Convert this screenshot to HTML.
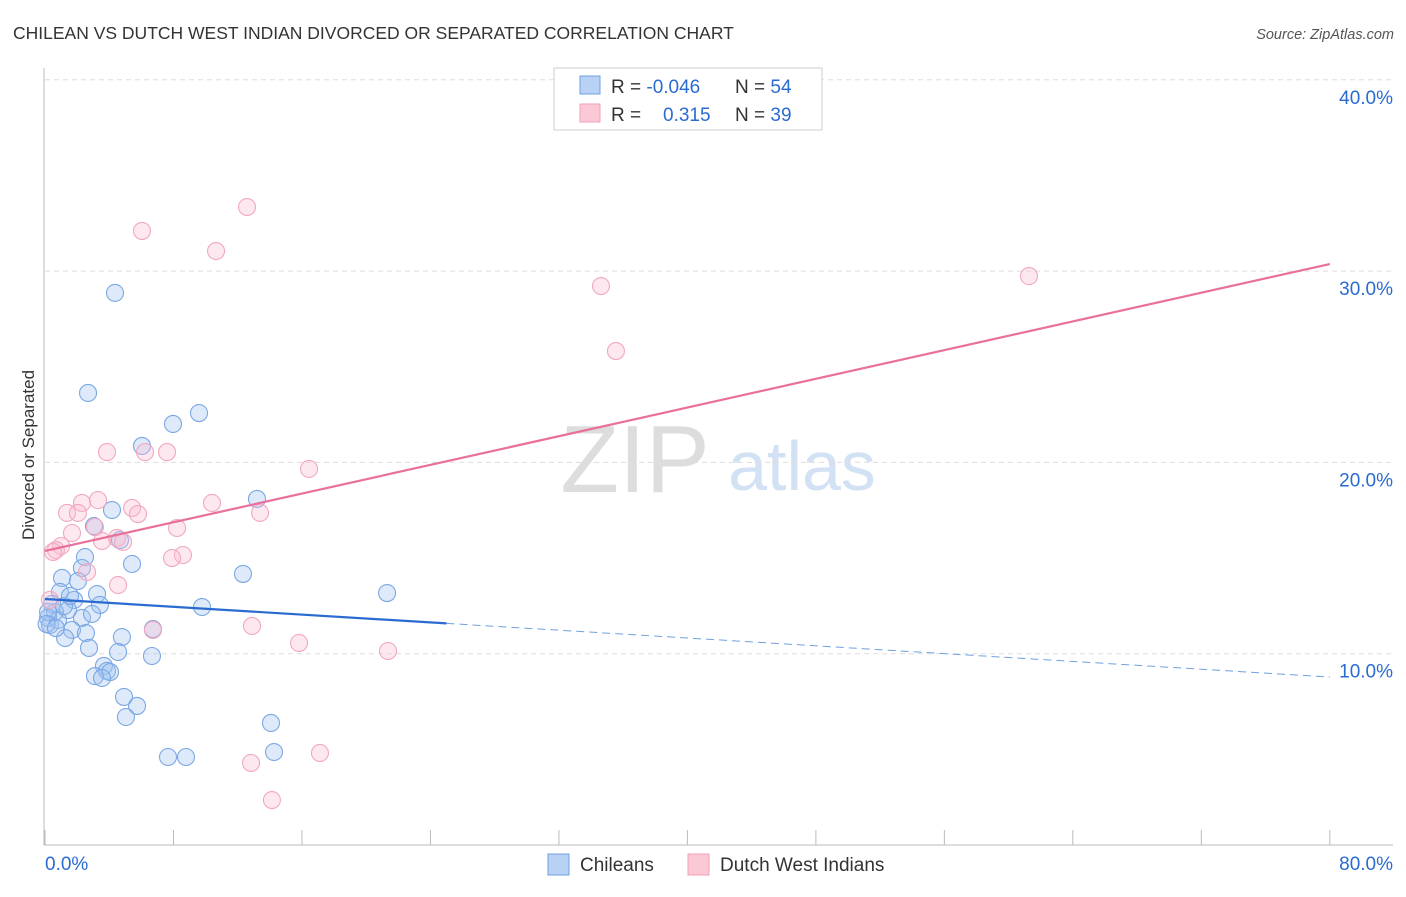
<!DOCTYPE html>
<html><head><meta charset="utf-8"><style>
body{margin:0;background:#fff;font-family:"Liberation Sans",sans-serif;}
svg text{font-family:"Liberation Sans",sans-serif;}
</style></head><body>
<svg id="c" width="1406" height="892" xmlns="http://www.w3.org/2000/svg">
<text x="13" y="39" font-size="17.5" fill="#333">CHILEAN VS DUTCH WEST INDIAN DIVORCED OR SEPARATED CORRELATION CHART</text>
<text x="1394" y="39" font-size="14.5" fill="#555" font-style="italic" text-anchor="end">Source: ZipAtlas.com</text>
<text x="34" y="455" font-size="17" fill="#333" text-anchor="middle" transform="rotate(-90 34 455)">Divorced or Separated</text>
<text x="635" y="492" font-size="96" fill="#ddd" font-family="Liberation Serif" text-anchor="middle">ZIP</text>
<text x="802" y="490" font-size="70" fill="#d2e1f3" text-anchor="middle">atlas</text>
<g id="grid"></g><g id="axes"></g><g id="pts"></g><g id="trend"></g>
<g>
<rect x="554" y="68" width="268" height="62" fill="#fff" stroke="#ccc"/>
<rect x="580" y="76" width="20" height="18" fill="#b8d2f5" stroke="#6fa0e0"/>
<rect x="580" y="104" width="20" height="18" fill="#fbc8d6" stroke="#f0a0b8"/>
<text x="611" y="93" font-size="19" fill="#333">R = <tspan fill="#2a6bd1">-0.046</tspan><tspan x="735">N = </tspan><tspan fill="#2a6bd1">54</tspan></text>
<text x="611" y="121" font-size="19" fill="#333">R = <tspan x="663" fill="#2a6bd1">0.315</tspan><tspan x="735">N = </tspan><tspan fill="#2a6bd1">39</tspan></text>
</g>
<g>
<rect x="548" y="854" width="21" height="21" fill="#b8d2f5" stroke="#6fa0e0"/>
<text x="580" y="871" font-size="19" fill="#333">Chileans</text>
<rect x="688" y="854" width="21" height="21" fill="#fbc8d6" stroke="#f0a0b8"/>
<text x="720" y="871" font-size="19" fill="#333">Dutch West Indians</text>
</g>
</svg>
<script>
const blueX=[4.36,2.68,9.59,7.97,6.04,13.20,4.17,3.05,4.67,2.49,5.42,2.30,12.33,1.06,2.05,0.93,3.24,21.30,1.81,3.42,9.78,0.44,1.43,0.62,2.30,2.93,0.19,0.31,1.68,2.55,6.72,4.79,1.25,2.74,4.55,6.66,3.67,3.86,4.05,3.11,3.55,4.92,5.73,5.04,14.07,7.66,8.78,14.26,0.81,1.18,0.19,1.56,0.1,0.68];
const blueY=[28.86,23.63,22.58,22.01,20.86,18.09,17.51,16.67,15.94,15.05,14.69,14.48,14.17,13.96,13.80,13.23,13.12,13.17,12.81,12.55,12.44,12.60,12.28,12.18,11.87,12.08,11.87,11.50,11.24,11.08,11.29,10.87,10.82,10.30,10.09,9.88,9.36,9.10,9.04,8.83,8.73,7.74,7.27,6.69,6.38,4.60,4.60,4.86,11.76,12.49,12.18,13.02,11.55,11.34];
const pinkX=[12.58,6.04,10.65,61.27,34.62,35.55,3.86,6.23,7.60,16.44,3.30,2.30,10.40,5.42,1.37,5.79,13.39,2.05,3.11,8.22,1.68,4.48,3.55,4.86,1.00,0.68,0.50,8.59,7.91,2.62,4.55,12.89,6.72,15.82,21.36,17.12,12.83,14.13,0.31];
const pinkY=[33.35,32.10,31.05,29.74,29.22,25.82,20.54,20.54,20.54,19.66,18.03,17.88,17.88,17.62,17.36,17.30,17.36,17.36,16.62,16.57,16.31,16.05,15.89,15.84,15.63,15.42,15.32,15.16,15.00,14.27,13.59,11.45,11.24,10.56,10.14,4.81,4.29,2.35,12.81];
const yTicks=[10,20,30,40];
const yTickLabels=["10.0%","20.0%","30.0%","40.0%"];
const blueTrend=[12.86,8.78];
const pinkTrend=[15.37,30.37];
const blueSolidEnd=25;
const NS="http://www.w3.org/2000/svg";
const sx=v=>45+v*16.06, sy=v=>845-v*19.13;
function mk(p,t,a){const e=document.createElementNS(NS,t);for(const k in a)e.setAttribute(k,a[k]);document.getElementById(p).appendChild(e);return e;}
yTicks.forEach((t,i)=>{
 const l=mk('grid','line',{x1:45,x2:1393,y1:sy(t),y2:sy(t),stroke:'#ddd','stroke-dasharray':'5,4'});
 
 
 const tx=mk('grid','text',{x:1393,y:sy(t)+24,'font-size':19,fill:'#2a6bd1','text-anchor':'end'});
 tx.textContent=yTickLabels[i];
 
 
});
const ax=mk('axes','line',{x1:44,x2:44,y1:68,y2:845,stroke:'#bbb'});


const bx=mk('axes','line',{x1:44,x2:1393,y1:845,y2:845,stroke:'#bbb'});


for(let i=0;i<=10;i++){const t=mk('axes','line',{x1:sx(i*8),x2:sx(i*8),y1:830,y2:845,stroke:'#bbb'});
 
 }
const xl=mk('axes','text',{x:45,y:870,'font-size':19,fill:'#2a6bd1'});xl.textContent='0.0%';


const xr=mk('axes','text',{x:1393,y:870,'font-size':19,fill:'#2a6bd1','text-anchor':'end'});xr.textContent='80.0%';


blueX.forEach((x,i)=>{const c=mk('pts','circle',{cx:sx(x),cy:sy(blueY[i]),r:8.5,fill:'rgba(160,196,240,0.35)',stroke:'#7aa8e4','stroke-width':1.1});
 
 });
pinkX.forEach((x,i)=>{const c=mk('pts','circle',{cx:sx(x),cy:sy(pinkY[i]),r:8.5,fill:'rgba(248,190,208,0.35)',stroke:'#f2a8bf','stroke-width':1.1});
 
 });
const bAt=x=>blueTrend[0]+(blueTrend[1]-blueTrend[0])*x/80;
const l1=mk('trend','line',{x1:sx(0),y1:sy(bAt(0)),x2:sx(blueSolidEnd),y2:sy(bAt(blueSolidEnd)),stroke:'#2a6bd1','stroke-width':2.2});


const l2=mk('trend','line',{x1:sx(blueSolidEnd),y1:sy(bAt(blueSolidEnd)),x2:sx(80),y2:sy(bAt(80)),stroke:'#6fa0e0','stroke-width':1,'stroke-dasharray':'8,5'});


const l3=mk('trend','line',{x1:sx(0),y1:sy(pinkTrend[0]),x2:sx(80),y2:sy(pinkTrend[1]),stroke:'#e8709a','stroke-width':2.2});


</script>
</body></html>
